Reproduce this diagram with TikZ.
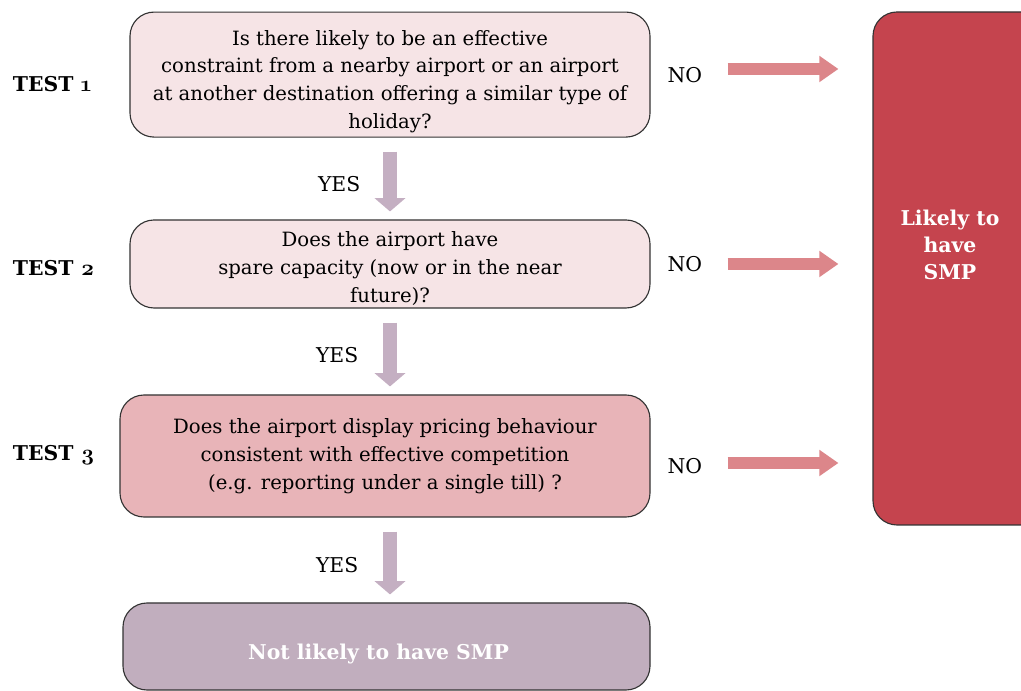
\documentclass[tikz,border=0pt]{standalone}
\usepackage{fontspec}
\setmainfont{DejaVu Serif}
\newfontfamily\oldnums[Numbers=OldStyle]{Latin Modern Roman}
\usetikzlibrary{arrows.meta,positioning,calc}
\definecolor{palepink}{HTML}{F6E4E6}
\definecolor{midpink}{HTML}{E8B4B8}
\definecolor{smpred}{HTML}{C5444E}
\definecolor{mauvebox}{HTML}{C1AEBE}
\definecolor{yesarrow}{HTML}{C4AFC2}
\definecolor{noarrow}{HTML}{DC868A}

\begin{document}
\begin{tikzpicture}[
    question/.style={draw=black!80, line width=0.8pt, rounded corners=0.6cm,
        align=center, inner sep=0pt, font=\fontsize{14}{19.8}\selectfont},
    testlabel/.style={anchor=west, font=\fontsize{14.5}{18}\selectfont\bfseries},
    answer/.style={text=black, font=\fontsize{14.5}{18}\selectfont},
    yesdown/.style={yesarrow, line width=0.35cm,
        -{Triangle[width=0.75cm,length=0.33cm]},
        shorten <=0.35cm, shorten >=0.2cm},
    noright/.style={noarrow, line width=0.32cm,
        -{Triangle[width=0.63cm,length=0.48cm]},
        shorten <=1.925cm, shorten >=0.85cm}
]
\useasboundingbox (0,0) rectangle (25.525,17.275);
\clip (0,0) rectangle (25.525,17.275);

% the three tests
\node[testlabel] (t1) at (0.2,15.175) {TEST {\oldnums\fontsize{16}{18}\selectfont 1}};
\node[testlabel] (t2) at (0.2,10.575) {TEST {\oldnums\fontsize{16}{18}\selectfont 2}};
\node[testlabel] (t3) at (0.2,5.9) {TEST {\oldnums\fontsize{16}{18}\selectfont 3}};

\node[question, fill=palepink, minimum width=13cm, minimum height=3.125cm]
    (q1) at (9.75,15.41) {\rule{0pt}{0.72cm}Is there likely to be an effective\\
    constraint from a nearby airport or an airport\\
    at another destination offering a similar type of\\ holiday?};
\node[question, fill=palepink, minimum width=13cm, minimum height=2.2cm]
    (q2) at (9.75,10.675) {\rule{0pt}{0.6cm}Does the airport have\\
    spare capacity (now or in the near\\ future)?};
\node[question, fill=midpink, minimum width=13.25cm, minimum height=3.05cm]
    (q3) at (9.625,5.875) {Does the airport display pricing behaviour\\
    consistent with effective competition\\
    (e.g. reporting under a single till) ?};
\node[question, fill=mauvebox, minimum width=13.175cm, minimum height=2.175cm,
    text=white, font=\fontsize{14.5}{19}\selectfont\bfseries]
    (q4) at (9.6625,1.1125) {\hspace*{-0.4cm}\rule{0pt}{0.75cm}Not likely to have SMP};

% outcome on the right
\node[question, fill=smpred, minimum width=4.5cm, minimum height=12.825cm]
    (smpbox) at (24.075,10.5625) {};
\node[text=white, align=center, font=\fontsize{14.5}{19.2}\selectfont\bfseries]
    (smp) at (23.75,11.15) {Likely to\\ have\\ SMP};

% yes arrows
\draw[yesdown] (q1.south) -- node[answer, left=0.45cm, yshift=-0.14cm] (y1) {YES} (q1.south |- q2.north);
\draw[yesdown] (q2.south) -- node[answer, left=0.5cm, yshift=-0.08cm] (y2) {YES} (q2.south |- q3.north);
\draw[yesdown] (q3.south -| q2.south) -- node[answer, left=0.5cm, yshift=-0.12cm] (y3) {YES} (q2.south |- q4.north);

% no arrows
\node[answer, right=0.3cm of q1] (n1) {NO};
\node[answer, right=0.3cm of q2] (n2) {NO};
\node[answer, right=0.3cm of q3, yshift=-0.25cm] (n3) {NO};
\draw[noright] ([yshift=0.14cm]q1.east) -- ([yshift=0.14cm]q1.east -| smpbox.west);
\draw[noright] (q2.east) -- (q2.east -| smpbox.west);
\draw[noright] ([yshift=-0.175cm]q3.east) -- ([yshift=-0.175cm]q3.east -| smpbox.west);
\end{tikzpicture}
\end{document}
